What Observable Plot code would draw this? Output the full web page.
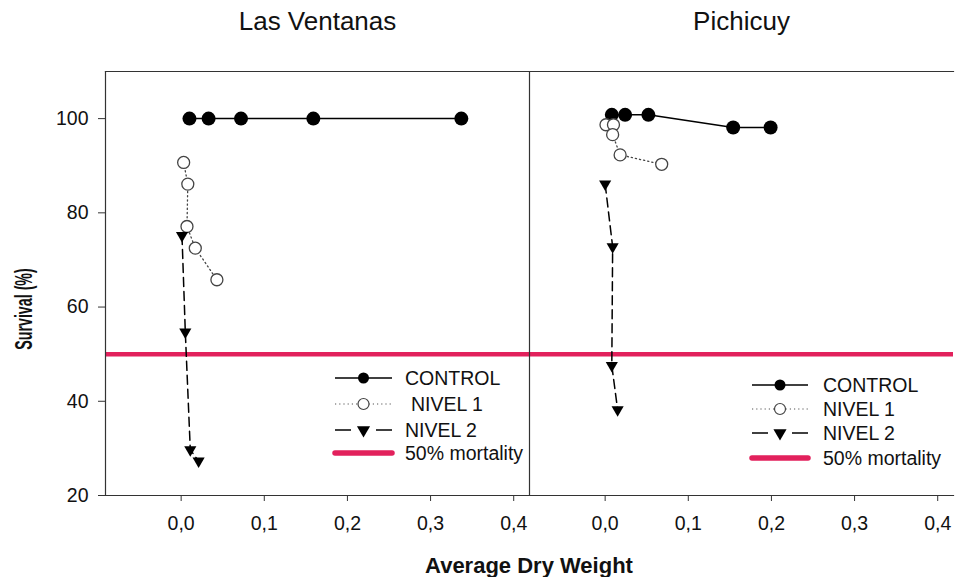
<!DOCTYPE html>
<html><head><meta charset="utf-8">
<script src="https://cdn.jsdelivr.net/npm/d3@7"></script>
<script src="https://cdn.jsdelivr.net/npm/@observablehq/plot@0.6"></script>
<style>body{margin:0;background:#fff;}</style>
</head><body><div id="chart"></div>
<script>
// ---- data ----
const sites = ["Las Ventanas", "Pichicuy"];
const seriesNames = ["CONTROL", "NIVEL 1", "NIVEL 2"];
const mortalityLabel = "50% mortality";
const mortalityLevel = [50];

const lvControlX = [0.010, 0.033, 0.072, 0.159, 0.337];
const lvControlY = [100, 100, 100, 100, 100];
const lvNivel1X = [0.003, 0.008, 0.007, 0.017, 0.043];
const lvNivel1Y = [90.7, 86.1, 77.1, 72.5, 65.8];
const lvNivel2X = [0.001, 0.005, 0.011, 0.021];
const lvNivel2Y = [75.2, 54.7, 29.7, 27.3];

const pcControlX = [0.008, 0.024, 0.052, 0.154, 0.199];
const pcControlY = [100.8, 100.8, 100.8, 98.1, 98.1];
const pcNivel1X = [0.001, 0.010, 0.009, 0.018, 0.068];
const pcNivel1Y = [98.7, 98.7, 96.6, 92.3, 90.3];
const pcNivel2X = [0.000, 0.009, 0.008, 0.015];
const pcNivel2Y = [86.1, 72.8, 47.6, 38.2];

const xTicks = [0, 0.1, 0.2, 0.3, 0.4];
const yTicks = [20, 40, 60, 80, 100];
const xLabel = "Average Dry Weight";
const yLabel = "Survival (%)";

// ---- table ----
const rows = [];
function add(site, series, xs, ys) { xs.forEach((x, i) => rows.push({site, series, x, y: ys[i]})); }
add(sites[0], seriesNames[0], lvControlX, lvControlY);
add(sites[0], seriesNames[1], lvNivel1X, lvNivel1Y);
add(sites[0], seriesNames[2], lvNivel2X, lvNivel2Y);
add(sites[1], seriesNames[0], pcControlX, pcControlY);
add(sites[1], seriesNames[1], pcNivel1X, pcNivel1Y);
add(sites[1], seriesNames[2], pcNivel2X, pcNivel2Y);
const S = s => rows.filter(d => d.series === s);

const RED = "#e2215c";
const font = "'Liberation Sans', Arial, sans-serif";

const plot = Plot.plot({
  width: 955, height: 577,
  marginLeft: 104, marginRight: 2, marginTop: 71, marginBottom: 82,
  style: {fontFamily: font, background: "#fff", color: "#111", overflow: "visible"},
  fx: {domain: sites, padding: 0, label: null},
  x: {domain: [-0.091, 0.419], label: null},
  y: {domain: [20, 110], label: null},
  marks: [
    Plot.axisFx({anchor: "top", tickSize: 0, tickPadding: 42, fontSize: 26, label: null}),
    Plot.axisX({ticks: xTicks, tickFormat: d => d3.format(".1f")(d).replace(".", ","), tickSize: 6, tickPadding: 15, fontSize: 19.5, label: null, stroke: "#333"}),
    Plot.axisY({ticks: yTicks, tickSize: 7, tickPadding: 10, fontSize: 19.5, label: null, stroke: "#333"}),
    Plot.ruleY(mortalityLevel, {stroke: RED, strokeWidth: 4.5}),
    Plot.frame({anchor: "top", stroke: "#333", strokeWidth: 1.2}),
    Plot.frame({anchor: "bottom", stroke: "#333", strokeWidth: 1.2}),
    Plot.frame({anchor: "left", stroke: "#333", strokeWidth: 1.2}),
    Plot.line(S(seriesNames[0]), {x: "x", y: "y", fx: "site", stroke: "#000", strokeWidth: 1.5}),
    Plot.line(S(seriesNames[1]), {x: "x", y: "y", fx: "site", stroke: "#444", strokeWidth: 1.3, strokeDasharray: "1.2,3"}),
    Plot.line(S(seriesNames[2]), {x: "x", y: "y", fx: "site", stroke: "#000", strokeWidth: 1.5, strokeDasharray: "9,5"}),
    Plot.dot(S(seriesNames[0]), {x: "x", y: "y", fx: "site", r: 7, fill: "#000", stroke: "none"}),
    Plot.dot(S(seriesNames[1]), {x: "x", y: "y", fx: "site", r: 6, fill: "#fff", stroke: "#444", strokeWidth: 1.3}),
    Plot.dot(S(seriesNames[2]), {x: "x", y: "y", fx: "site", symbol: "triangle2", r: 5.8, rotate: 180, fill: "#000", stroke: "none"})
  ]
});
document.getElementById("chart").appendChild(plot);

// ---- axis titles & legends ----
const svg = d3.select(plot);
svg.append("text").attr("x", 529).attr("y", 573).attr("text-anchor", "middle")
  .attr("font-family", font).attr("font-weight", "bold").attr("font-size", 22).attr("fill", "#111").text(xLabel);
svg.append("text").attr("transform", "translate(32,309) rotate(-90) scale(0.62,1)").attr("text-anchor", "middle")
  .attr("font-family", font).attr("font-weight", "bold").attr("font-size", 23).attr("fill", "#111").text(yLabel);

function legend(x0, x1, tx, ys, n1dx) {
  const g = svg.append("g").attr("font-family", font).attr("font-size", 19.5).attr("fill", "#111").attr("text-anchor", "start");
  const xm = (x0 + x1) / 2;
  // CONTROL
  g.append("line").attr("x1", x0).attr("x2", x1).attr("y1", ys[0]).attr("y2", ys[0]).attr("stroke", "#000").attr("stroke-width", 1.5);
  g.append("circle").attr("cx", xm).attr("cy", ys[0]).attr("r", 5.5).attr("fill", "#000");
  // NIVEL 1
  g.append("line").attr("x1", x0).attr("x2", x1).attr("y1", ys[1]).attr("y2", ys[1]).attr("stroke", "#555").attr("stroke-width", 1.2).attr("stroke-dasharray", "1.2,3");
  g.append("circle").attr("cx", xm).attr("cy", ys[1]).attr("r", 5.5).attr("fill", "#fff").attr("stroke", "#444").attr("stroke-width", 1.2);
  // NIVEL 2: one dash on each side of the marker
  g.append("line").attr("x1", x0).attr("x2", x0 + 16).attr("y1", ys[2]).attr("y2", ys[2]).attr("stroke", "#000").attr("stroke-width", 1.5);
  g.append("line").attr("x1", x1 - 16).attr("x2", x1).attr("y1", ys[2]).attr("y2", ys[2]).attr("stroke", "#000").attr("stroke-width", 1.5);
  g.append("path").attr("d", d3.symbol(d3.symbolTriangle, 75)()).attr("transform", `translate(${xm},${ys[2]}) rotate(180)`).attr("fill", "#000");
  // mortality
  g.append("line").attr("x1", x0).attr("x2", x1).attr("y1", ys[3]).attr("y2", ys[3]).attr("stroke", RED).attr("stroke-width", 5.5).attr("stroke-linecap", "round");
  const labels = [seriesNames[0], seriesNames[1], seriesNames[2], mortalityLabel];
  labels.forEach((t, i) => g.append("text").attr("x", tx + (i === 1 ? n1dx : 0)).attr("y", ys[i]).attr("dy", "0.36em").text(t));
}
legend(335, 392, 405, [378, 404, 430, 453], 6);
legend(752, 808, 823, [385, 409, 433, 458], 0);
</script>
</body></html>
